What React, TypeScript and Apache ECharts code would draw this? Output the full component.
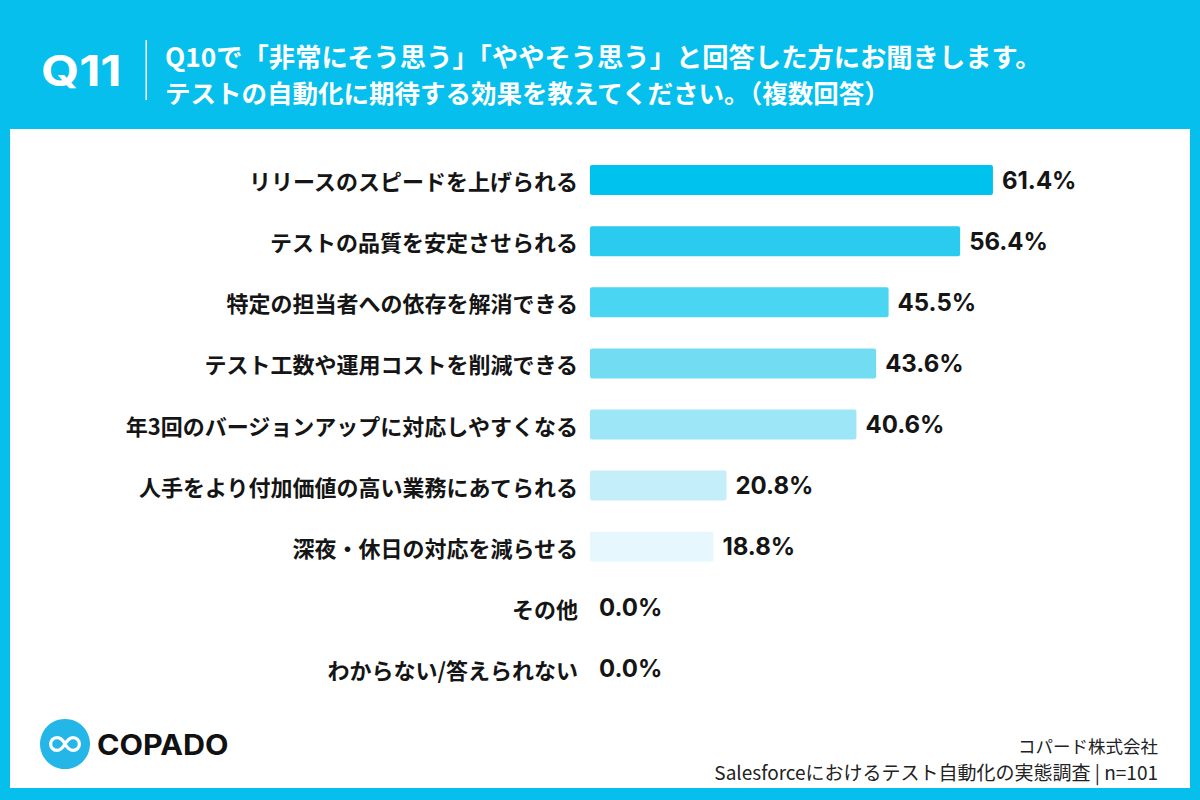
import React, { useEffect, useRef } from "react";
import * as echarts from "echarts";

const categories = [
  "リリースのスピードを上げられる",
  "テストの品質を安定させられる",
  "特定の担当者への依存を解消できる",
  "テスト工数や運用コストを削減できる",
  "年3回のバージョンアップに対応しやすくなる",
  "人手をより付加価値の高い業務にあてられる",
  "深夜・休日の対応を減らせる",
  "その他",
  "わからない/答えられない",
];

const values = [61.4, 56.4, 45.5, 43.6, 40.6, 20.8, 18.8, 0.0, 0.0];

const barColors = [
  "#00C2EF",
  "#2BCBF0",
  "#4AD5F3",
  "#72DCF3",
  "#9CE6F8",
  "#C5EEFB",
  "#E6F7FD",
  "#F2FBFE",
  "#F2FBFE",
];

const questionNo = "Q11";
const titleLines = [
  "Q10で「非常にそう思う」「ややそう思う」と回答した方にお聞きします。",
  "テストの自動化に期待する効果を教えてください。（複数回答）",
];
const brandName = "COPADO";
const sourceLines = ["コパード株式会社", "Salesforceにおけるテスト自動化の実態調査 | n=101"];

const BLUE = "#06BFEC";
const JP = "'Noto Sans CJK JP', 'Noto Sans', sans-serif";
const LATIN = "Inter, 'Noto Sans', sans-serif";

// Infinity loop mark used inside the brand circle
const loopPath =
  "M 0 0 C -3 -6 -7 -8 -10 -8 C -15 -8 -18 -4 -18 0 C -18 4 -15 8 -10 8 C -6 8 -3 5 0 0 C 3 -5 6 -8 10 -8 C 15 -8 18 -4 18 0 C 18 4 15 8 10 8 C 6 8 3 5 0 0";

let shapeRegistered = false;

export default function App() {
  const ref = useRef<HTMLDivElement>(null);

  useEffect(() => {
    if (!ref.current) return;
    if (!shapeRegistered) {
      echarts.graphic.registerShape("loopMark", echarts.graphic.extendPath(loopPath, {}));
      shapeRegistered = true;
    }
    const chart = echarts.init(ref.current, undefined, { renderer: "svg" });

    chart.setOption({
      animation: false,
      backgroundColor: BLUE,
      grid: { left: 590, top: 149.5, width: 525, height: 550, containLabel: false },
      xAxis: {
        type: "value",
        min: 0,
        max: 80,
        show: false,
      },
      yAxis: {
        type: "category",
        inverse: true,
        data: categories,
        axisLine: { show: false },
        axisTick: { show: false },
        splitLine: { show: false },
        axisLabel: {
          margin: 12,
          color: "#151515",
          fontSize: 22,
          fontWeight: "bold",
          fontFamily: JP,
        },
      },
      series: [
        {
          type: "bar",
          barWidth: 30,
          data: values.map((v, i) => ({
            value: v,
            itemStyle: { color: barColors[i], borderRadius: 2 },
          })),
          label: {
            show: true,
            position: "right",
            distance: 9,
            formatter: (p: any) => `${Number(p.value).toFixed(1)}%`,
            color: "#151515",
            fontSize: 24,
            fontWeight: "bold",
            fontFamily: LATIN,
          },
        },
      ],
      graphic: [
        {
          type: "rect",
          z: -1,
          shape: { x: 10, y: 129, width: 1180, height: 659 },
          style: { fill: "#FFFFFF" },
          silent: true,
        },
        {
          type: "text",
          x: 41,
          y: 71,
          scaleX: 1.17,
          style: {
            text: questionNo,
            fill: "#FFFFFF",
            fontSize: 42,
            fontWeight: "bold",
            fontFamily: LATIN,
            textVerticalAlign: "middle",
          },
        },
        {
          type: "rect",
          shape: { x: 145.5, y: 40, width: 1.5, height: 60 },
          style: { fill: "#FFFFFF" },
        },
        {
          type: "text",
          x: 165,
          y: 55,
          style: {
            text: titleLines[0],
            fill: "#FFFFFF",
            fontSize: 26.3,
            lineHeight: 28,
            fontWeight: "bold",
            fontFamily: JP,
            textVerticalAlign: "middle",
          },
        },
        {
          type: "text",
          x: 165,
          y: 91,
          style: {
            text: titleLines[1],
            fill: "#FFFFFF",
            fontSize: 25.5,
            lineHeight: 28,
            fontWeight: "bold",
            fontFamily: JP,
            textVerticalAlign: "middle",
          },
        },
        {
          type: "circle",
          shape: { cx: 65, cy: 744, r: 25 },
          style: { fill: "#25B6E8" },
        },
        {
          type: "loopMark",
          x: 65,
          y: 744,
          scaleX: 0.8,
          scaleY: 0.8,
          style: { fill: "none", stroke: "#FFFFFF", lineWidth: 4 },
        },
        {
          type: "text",
          x: 97,
          y: 745,
          scaleX: 1.09,
          style: {
            text: brandName,
            fill: "#111111",
            fontSize: 28,
            fontWeight: "bold",
            fontFamily: LATIN,
            textVerticalAlign: "middle",
          },
        },
        {
          type: "text",
          x: 1158,
          y: 745,
          style: {
            text: sourceLines[0],
            fill: "#222222",
            fontSize: 17.5,
            lineHeight: 22,
            fontFamily: JP,
            textAlign: "right",
            textVerticalAlign: "middle",
          },
        },
        {
          type: "text",
          x: 1158,
          y: 771,
          style: {
            text: sourceLines[1],
            fill: "#222222",
            fontSize: 19,
            lineHeight: 22,
            fontFamily: JP,
            textAlign: "right",
            textVerticalAlign: "middle",
          },
        },
      ],
    });

    return () => chart.dispose();
  }, []);

  return (
    <div
      ref={ref}
      style={{ position: "fixed", left: 0, top: 0, width: 1200, height: 800 }}
    />
  );
}
